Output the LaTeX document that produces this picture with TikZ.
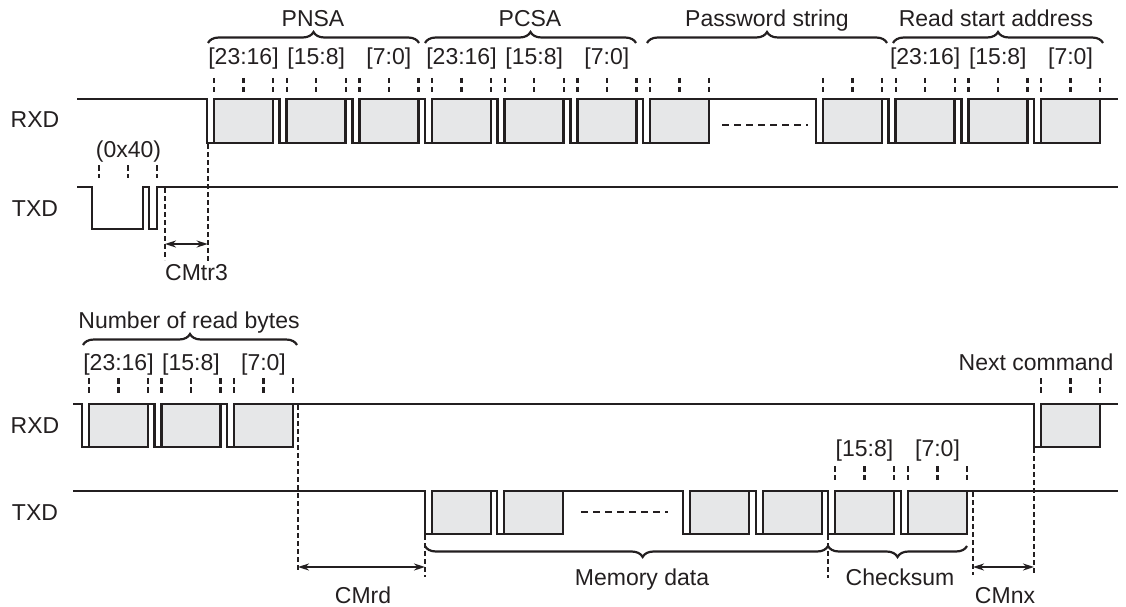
\documentclass[tikz,border=0pt]{standalone}
\usepackage{fontspec}
\setmainfont{Liberation Sans}
\usetikzlibrary{arrows.meta,decorations.pathreplacing}
\definecolor{ink}{RGB}{35,31,32}
\definecolor{boxgray}{RGB}{230,231,232}
\tikzset{
 sig/.style={draw=ink, line width=2.6pt, line join=miter},
 databox/.style={draw=ink, fill=boxgray, line width=2.6pt},
 tickmark/.style={draw=ink, line width=2.4pt, dash pattern=on 5.5pt off 3.5pt},
 guide/.style={draw=ink, line width=2.4pt, dash pattern=on 5pt off 3pt},
 dotline/.style={draw=ink, line width=2.4pt, dash pattern=on 7pt off 5pt},
 lbl/.style={text=ink, font=\fontsize{23}{27}\selectfont, inner sep=0pt, anchor=base},
 brc/.style={draw=ink, line width=2.2pt, decorate, decoration={brace, amplitude=11pt}},
 brcm/.style={draw=ink, line width=2.2pt, decorate, decoration={brace, mirror, amplitude=11pt}},
 dimarrow/.style={draw=ink, line width=2.4pt, {Stealth[length=11pt,width=7pt]}-{Stealth[length=11pt,width=7pt]}},
}
\newcommand\sbyte[4]{%
  \draw[sig] (#1,#3) -- ({#2-7},#3) -- ({#2-7},#4) -- (#2,#4);
  \draw[databox] (#2,#3) rectangle ({#2+59},#4);
}
\newcommand\bticks[3]{%
  \foreach \dx in {0,29.5,59} \draw[tickmark] ({#1+\dx},#2) -- ({#1+\dx},#3);
}
\begin{document}
\begin{tikzpicture}[x=1pt,y=-1pt]
\useasboundingbox (0,0) rectangle (1126,607);
% ---------- signal names
\node[lbl] (rxdA) at (35,128) {RXD};
\node[lbl] (txdA) at (35,216) {TXD};
\node[lbl] (rxdB) at (35,433) {RXD};
\node[lbl] (txdB) at (35,520) {TXD};
% ---------- top RXD
\sbyte{77}{214}{99}{143}
\sbyte{273}{286.7}{99}{143}
\sbyte{345.7}{359.3}{99}{143}
\sbyte{418.3}{432}{99}{143}
\sbyte{491}{504.7}{99}{143}
\sbyte{563.7}{577.3}{99}{143}
\sbyte{636.3}{650}{99}{143}
\sbyte{709}{823}{99}{143}
\sbyte{882}{895.7}{99}{143}
\sbyte{954.7}{968.3}{99}{143}
\sbyte{1027.3}{1041}{99}{143}
\draw[sig] (1100,99) -- (1118,99);
\draw[dotline] (722,125) -- (808,125);
\foreach \L in {214,286.7,359.3,432,504.7,577.3,650,823,895.7,968.3,1041} {\bticks{\L}{78}{93}}
% top labels
\node[lbl] (pn1) at (243.5,65) {[23:16]};
\node[lbl] (pn2) at (316.2,65) {[15:8]};
\node[lbl] (pn3) at (388.8,65) {[7:0]};
\node[lbl] (pc1) at (461.5,65) {[23:16]};
\node[lbl] (pc2) at (534.2,65) {[15:8]};
\node[lbl] (pc3) at (606.8,65) {[7:0]};
\node[lbl] (ra1) at (925.2,65) {[23:16]};
\node[lbl] (ra2) at (997.8,65) {[15:8]};
\node[lbl] (ra3) at (1070.5,65) {[7:0]};
\draw[brc] (208,43) -- (419,43);
\draw[brc] (425,43) -- (636,43);
\draw[brc] (647,43) -- (887,43);
\draw[brc] (893,43) -- (1103,43);
\node[lbl] (pnsa) at (313,27) {PNSA};
\node[lbl] (pcsa) at (530,27) {PCSA};
\node[lbl] (pwd) at (767,27) {Password string};
\node[lbl] (rsa) at (996,27) {Read start address};
% ---------- top TXD
\draw[sig] (77,187) -- (92,187) -- (92,229) -- (143,229) -- (143,187) -- (149,187) -- (149,229) -- (157,229) -- (157,187) -- (1118,187);
\foreach \x in {99,128,157} \draw[tickmark] (\x,165) -- (\x,178);
\node[lbl] (cmd) at (128.5,157) {(0x40)};
\coordinate (gAt) at (165,188); \coordinate (gAb) at (165,260);
\coordinate (gBt) at (207.7,144); \coordinate (gBb) at (207.7,262);
\draw[guide] (gAt) -- (gAb);
\draw[guide] (gBt) -- (gBb);
\coordinate (cA1) at (165,244); \coordinate (cA2) at (207.7,244);
\draw[dimarrow] (cA1) -- (cA2);
\node[lbl, anchor=base west] (cmtr) at (165,280) {CMtr3};
% ---------- bottom RXD
\sbyte{73}{89}{404}{447}
\sbyte{148}{161.5}{404}{447}
\sbyte{220.5}{234}{404}{447}
\sbyte{293}{1041}{404}{447}
\draw[sig] (1100,404) -- (1118,404);
\foreach \L in {89,161.5,234,1041} {\bticks{\L}{378}{393}}
\node[lbl] (nb1) at (118.5,370) {[23:16]};
\node[lbl] (nb2) at (191,370) {[15:8]};
\node[lbl] (nb3) at (263.5,370) {[7:0]};
\draw[brc] (83,345) -- (297,345);
\node[lbl] (nrb) at (189,328) {Number of read bytes};
\node[lbl] (nxt) at (1036,370) {Next command};
% ---------- bottom TXD
\sbyte{73}{432}{491}{534}
\sbyte{491}{504}{491}{534}
\sbyte{563}{690}{491}{534}
\sbyte{749}{763}{491}{534}
\sbyte{822}{835}{491}{534}
\sbyte{894}{908}{491}{534}
\draw[sig] (967,491) -- (1118,491);
\draw[dotline] (581,512) -- (668,512);
\foreach \L in {835,908} {\bticks{\L}{466}{480}}
\node[lbl] (cs1) at (864.5,456) {[15:8]};
\node[lbl] (cs2) at (937.5,456) {[7:0]};
\draw[draw=ink, line width=2.2pt, decorate, decoration={brace, mirror, amplitude=11pt, aspect=0.54}] (425,546) -- (828,546);
\draw[brcm] (828,546) -- (967,546);
\node[lbl] (mem) at (642,585) {Memory data};
\node[lbl] (chk) at (900,585) {Checksum};
% guides bottom
\coordinate (g1t) at (298,405); \coordinate (g1b) at (298,572);
\coordinate (g2t) at (425,535); \coordinate (g2b) at (425,577);
\coordinate (g3t) at (828,535); \coordinate (g3b) at (828,578);
\coordinate (g4t) at (973,492); \coordinate (g4b) at (973,575);
\coordinate (g5t) at (1034,448); \coordinate (g5b) at (1034,573);
\draw[guide] (g1t) -- (g1b);
\draw[guide] (g2t) -- (g2b);
\draw[guide] (g3t) -- (g3b);
\draw[guide] (g4t) -- (g4b);
\draw[guide] (g5t) -- (g5b);
\coordinate (cB1) at (298,567); \coordinate (cB2) at (425,567);
\coordinate (cC1) at (973,567); \coordinate (cC2) at (1034,567);
\draw[dimarrow] (cB1) -- (cB2);
\draw[dimarrow] (cC1) -- (cC2);
\node[lbl] (cmrd) at (363,603) {CMrd};
\node[lbl] (cmnx) at (1005,603) {CMnx};
\end{tikzpicture}
\end{document}
